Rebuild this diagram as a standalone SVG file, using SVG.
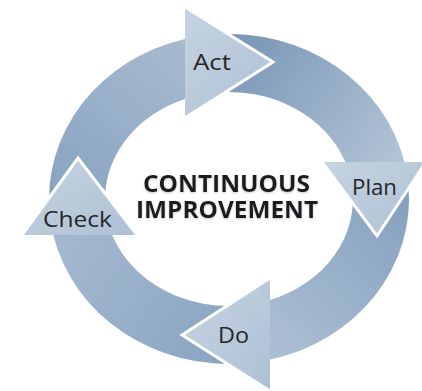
<svg xmlns="http://www.w3.org/2000/svg" width="422" height="391" viewBox="0 0 422 391">
  <defs>
    <linearGradient id="gAct" gradientUnits="userSpaceOnUse" x1="60" y1="210" x2="185" y2="50">
      <stop offset="0" stop-color="#87a3c1"/>
      <stop offset="1" stop-color="#a6bace"/>
    </linearGradient>
    <linearGradient id="gPlan" gradientUnits="userSpaceOnUse" x1="215" y1="40" x2="385" y2="170">
      <stop offset="0" stop-color="#7593b4"/>
      <stop offset="1" stop-color="#b0c2d5"/>
    </linearGradient>
    <linearGradient id="gDo" gradientUnits="userSpaceOnUse" x1="405" y1="190" x2="270" y2="335">
      <stop offset="0" stop-color="#84a0bf"/>
      <stop offset="1" stop-color="#aabdd2"/>
    </linearGradient>
    <linearGradient id="gCheck" gradientUnits="userSpaceOnUse" x1="250" y1="345" x2="80" y2="235">
      <stop offset="0" stop-color="#88a3c1"/>
      <stop offset="1" stop-color="#a2b7ce"/>
    </linearGradient>
    <linearGradient id="gHead" x1="0" y1="0" x2="1" y2="1">
      <stop offset="0" stop-color="#c6d4e2"/>
      <stop offset="1" stop-color="#adc0d4"/>
    </linearGradient>
    <filter id="soft" x="-10%" y="-30%" width="120%" height="160%">
      <feDropShadow dx="0" dy="1" stdDeviation="1.2" flood-color="#9aa5b0" flood-opacity="0.6"/>
    </filter>
  </defs>
  <style>
    .head { fill: url(#gHead); }
    .edge { fill: none; stroke: #ffffff; stroke-width: 3; stroke-linejoin: miter; }
    .lbl { font-family: "Open Sans", "Liberation Sans", sans-serif; fill: #262626; }
    .title { font-family: "Open Sans", "Liberation Sans", sans-serif; font-weight: bold; fill: #1a1a1a; font-size: 24px; }
  </style>
  <rect width="422" height="391" fill="#ffffff"/>

  <g id="connectors">
    <path d="M 49.7 213.4 A 180 165 0 0 1 185 39 L 185 99 A 124 107 0 0 0 105.5 208.3 Z" fill="url(#gAct)"/>
    <path d="M 215 34.5 A 180 165 0 0 1 404.4 162 L 345.3 162 A 124 107 0 0 0 215 92.7 Z" fill="url(#gPlan)"/>
    <path d="M 408.4 185 A 180 165 0 0 1 270 359.6 L 270 300 A 124 107 0 0 0 351.9 185 Z" fill="url(#gDo)"/>
    <path d="M 245 363.3 A 180 165 0 0 1 53.3 235 L 112.2 235 A 124 107 0 0 0 245 305.1 Z" fill="url(#gCheck)"/>
  </g>

  <g id="node-act">
    <polygon class="head" points="185,7 273,62 185,118"/>
    <polyline class="edge" points="185,7 273,62 185,118"/>
    <text class="lbl" x="193" y="70" font-size="21" textLength="38" lengthAdjust="spacingAndGlyphs">Act</text>
  </g>
  <g id="node-plan">
    <polygon class="head" points="322,162 426,162 377,236"/>
    <polyline class="edge" points="322,162 377,236 426,162"/>
    <text class="lbl" x="352" y="195" font-size="22" textLength="45" lengthAdjust="spacingAndGlyphs">Plan</text>
  </g>
  <g id="node-do">
    <polygon class="head" points="270,278 182,335 270,391"/>
    <polyline class="edge" points="270,278 182,335 270,391"/>
    <text class="lbl" x="218" y="343" font-size="21" textLength="31" lengthAdjust="spacingAndGlyphs">Do</text>
  </g>
  <g id="node-check">
    <polygon class="head" points="22,235 78,158 137,235"/>
    <polyline class="edge" points="22,235 78,158 137,235"/>
    <text class="lbl" x="43" y="227" font-size="22" textLength="69" lengthAdjust="spacingAndGlyphs">Check</text>
  </g>

  <g id="node-center" filter="url(#soft)">
    <text class="title"><tspan x="143" y="192" textLength="167" lengthAdjust="spacingAndGlyphs">CONTINUOUS</tspan><tspan x="136" y="218" textLength="182" lengthAdjust="spacingAndGlyphs">IMPROVEMENT</tspan></text>
  </g>
</svg>
